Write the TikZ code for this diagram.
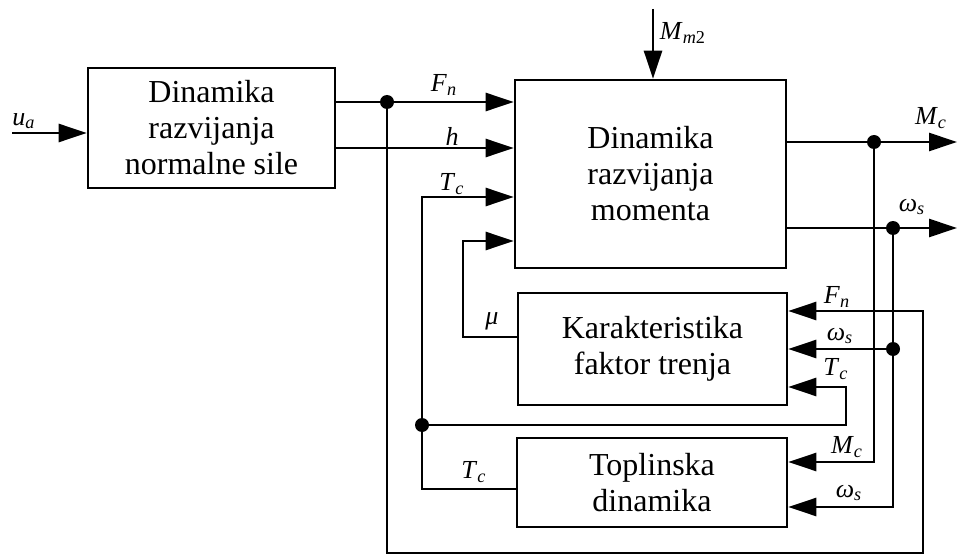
\documentclass[tikz,border=0pt]{standalone}
\usepackage{fontspec}
\setmainfont{Liberation Serif}
\usetikzlibrary{calc,arrows.meta}
\newcommand{\sig}[2]{\textit{#1}\textsubscript{\textit{#2}}}

\begin{document}
\begin{tikzpicture}[x=0.5pt,y=-0.5pt]
        \tikzstyle {blok} = [rectangle, draw=black, line width=1.3pt, inner sep=0pt, align=center, font=\fontsize{16}{18}\selectfont]
        \tikzstyle {veza} = [line width=1.3pt, -{Triangle[length=14pt,width=9pt]}]
        \tikzstyle {oznaka} = [inner sep=0pt, font=\fontsize{13}{13}\selectfont]
        \tikzstyle {cvor} = [circle, fill=black, inner sep=0pt, minimum size=7pt]
        \useasboundingbox (0,0) rectangle (959,556);
        % Blokovi
        \node (sila) [blok, minimum width=123.5pt, minimum height=60pt] at (211.5,128) {Dinamika\\razvijanja\\normalne sile};
        \node (moment) [blok, minimum width=135.5pt, minimum height=94pt] at (650.5,174) {Dinamika\\razvijanja\\momenta};
        \node (trenje) [blok, minimum width=134.5pt, minimum height=56pt] at (652.5,349) {Karakteristika\\faktor trenja};
        \node (toplina) [blok, minimum width=135pt, minimum height=44.5pt] at (652,482.5) {Toplinska\\dinamika};
        % Ulazi
        \coordinate (ulaz) at (12,133);
        \draw[veza] (ulaz) -- (ulaz -| sila.west);
        \node (ua) [oznaka] at (24,121) {\sig{u}{a}};
        \coordinate (mm2) at (653,9);
        \draw[veza] (mm2) -- (mm2 |- moment.north);
        \node (oznaka_mm2) [oznaka] at (683,33) {\textit{M}\textsubscript{\textit{m}2}};
        % Normalna sila i h
        \node (fn_cvor) [cvor] at (387,102) {};
        \draw[veza] (sila.east |- fn_cvor) -- (moment.west |- fn_cvor);
        \node (oznaka_fn) [oznaka] at (444,85) {\sig{F}{n}};
        \coordinate (h_red) at (335,148);
        \draw[veza] (h_red) -- (moment.west |- h_red);
        \node (oznaka_h) [oznaka] at (452,136) {\textit{h}};
        \coordinate (fn_dolje) at (923,553);
        \coordinate (fn_trenje) at (923,311);
        \draw[veza] (fn_cvor) |- (fn_dolje) -- (fn_trenje) -- (trenje.east |- fn_trenje);
        \node (oznaka_fn2) [oznaka] at (837,297) {\sig{F}{n}};
        % Moment Mc
        \node (mc_cvor) [cvor] at (874,142) {};
        \coordinate (mc_izlaz) at (957,142);
        \draw[veza] (moment.east |- mc_izlaz) -- (mc_izlaz);
        \node (oznaka_mc) [oznaka] at (931,118) {\sig{M}{c}};
        \coordinate (mc_toplina) at (874,462);
        \draw[veza] (mc_cvor) -- (mc_toplina) -- (toplina.east |- mc_toplina);
        \node (oznaka_mc2) [oznaka] at (847,447) {\sig{M}{c}};
        % Brzina klizanja
        \node (ws_cvor) [cvor] at (893,228) {};
        \coordinate (ws_izlaz) at (957,228);
        \draw[veza] (moment.east |- ws_izlaz) -- (ws_izlaz);
        \node (oznaka_ws) [oznaka] at (912,207) {\sig{ω}{s}};
        \node (ws_cvor2) [cvor] at (893,349) {};
        \coordinate (ws_toplina) at (893,507);
        \draw[veza] (ws_cvor) -- (ws_toplina) -- (toplina.east |- ws_toplina);
        \draw[veza] (ws_cvor2) -- (trenje.east |- ws_cvor2);
        \node (oznaka_ws2) [oznaka] at (840,336) {\sig{ω}{s}};
        \node (oznaka_ws3) [oznaka] at (849,493) {\sig{ω}{s}};
        % Temperatura Tc
        \coordinate (tc_toplina) at (422,489);
        \node (tc_cvor) [cvor] at (422,425) {};
        \coordinate (tc_moment) at (422,197);
        \draw[veza] (toplina.west |- tc_toplina) -- (tc_toplina) -- (tc_moment) -- (moment.west |- tc_moment);
        \node (oznaka_tc) [oznaka] at (452,184) {\sig{T}{c}};
        \node (oznaka_tc3) [oznaka] at (474,472) {\sig{T}{c}};
        \coordinate (tc_trenje) at (846,387);
        \draw[veza] (tc_cvor) -| (tc_trenje) -- (trenje.east |- tc_trenje);
        \node (oznaka_tc2) [oznaka] at (836,369) {\sig{T}{c}};
        % Faktor trenja
        \coordinate (mi) at (463,337);
        \coordinate (mi_gore) at (463,241);
        \draw[veza] (trenje.west |- mi) -- (mi) -- (mi_gore) -- (moment.west |- mi_gore);
        \node (oznaka_mi) [oznaka] at (492,321) {\textit{μ}};
    \end{tikzpicture}
\end{document}
